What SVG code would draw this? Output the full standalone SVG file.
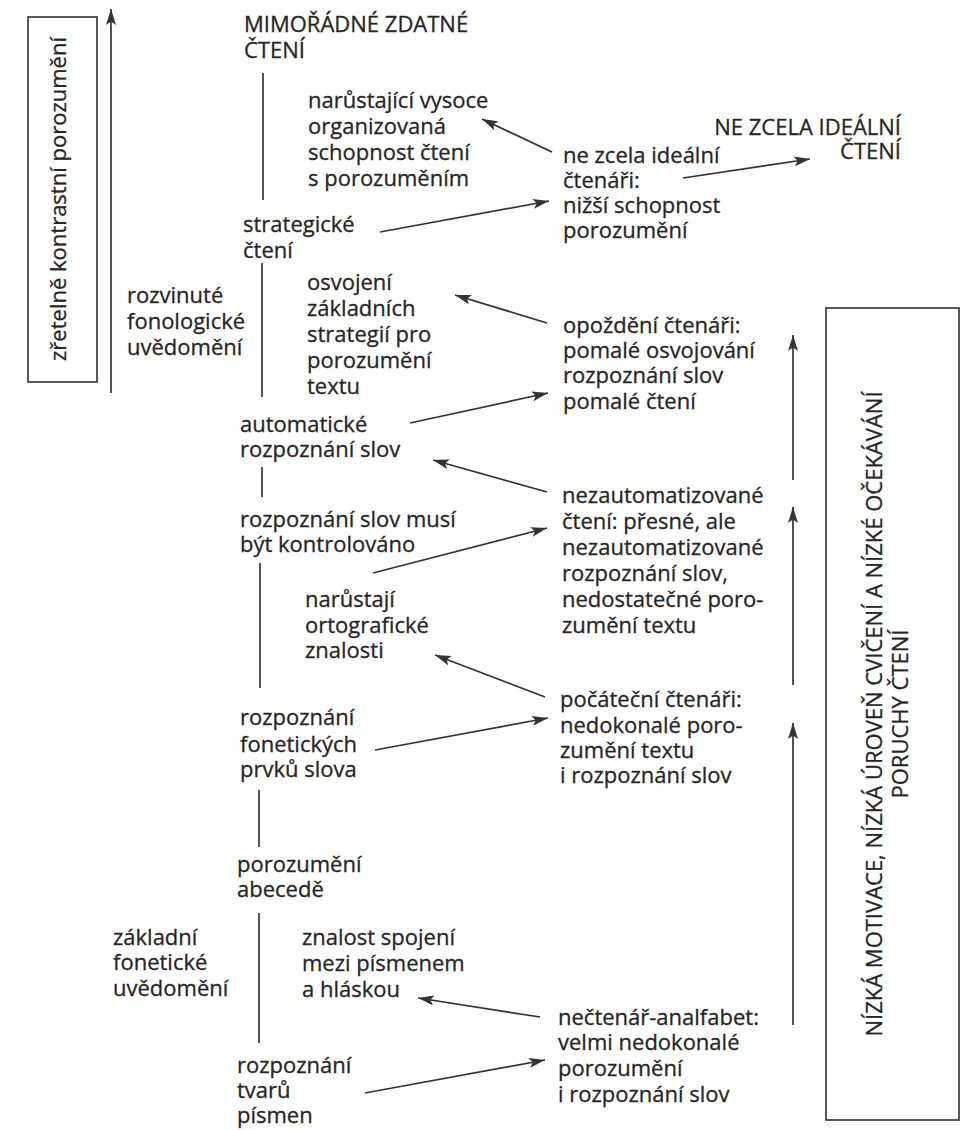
<svg xmlns="http://www.w3.org/2000/svg" width="964" height="1130" viewBox="0 0 964 1130">
<style>
text{font-family:"Open Sans","Noto Sans","DejaVu Sans",sans-serif;font-size:22px;fill:#262626;stroke:#262626;stroke-width:0.3}
.ln{stroke:#333;stroke-width:1.7;fill:none}
.ar{stroke:#333;stroke-width:1.7;fill:none;marker-end:url(#ah)}
.box{stroke:#3c3c3c;stroke-width:1.7;fill:none}
</style>
<defs>
<marker id="ah" markerUnits="userSpaceOnUse" markerWidth="17" markerHeight="10" refX="16" refY="5" orient="auto" viewBox="0 0 17 10">
<path d="M0,0 L16,5 L0,10 L3.5,5 z" fill="#333"/>
</marker>
</defs>
<rect width="964" height="1130" fill="#fff"/>

<g id="left-box">
<rect class="box" x="28" y="17" width="69" height="365"/>
<text transform="translate(66,199) rotate(-90)" text-anchor="middle">zřetelně kontrastní porozumění</text>
</g>

<g id="right-box">
<rect class="box" x="826" y="308" width="133" height="812"/>
<text transform="translate(882,714) rotate(-90)" text-anchor="middle">NÍZKÁ MOTIVACE, NÍZKÁ ÚROVEŇ CVIČENÍ A NÍZKÉ OČEKÁVÁNÍ</text>
<text transform="translate(908,714) rotate(-90)" text-anchor="middle">PORUCHY ČTENÍ</text>
</g>

<g id="n-mimoradne"><text x="244" y="32">MIMOŘÁDNÉ ZDATNÉ<tspan x="244" y="58">ČTENÍ</tspan></text></g>
<g id="n-narustajici-vysoce"><text x="308" y="108">narůstající vysoce<tspan x="308" y="134">organizovaná</tspan><tspan x="308" y="160">schopnost čtení</tspan><tspan x="308" y="186">s porozuměním</tspan></text></g>
<g id="n-strategicke"><text x="243" y="232">strategické<tspan x="243" y="258">čtení</tspan></text></g>
<g id="n-ne-zcela"><text x="563" y="163">ne zcela ideální<tspan x="563" y="188">čtenáři:</tspan><tspan x="563" y="213">nižší schopnost</tspan><tspan x="563" y="238">porozumění</tspan></text></g>
<g id="n-ne-zcela-idealni"><text x="901" y="135" text-anchor="end">NE ZCELA IDEÁLNÍ<tspan x="901" y="159">ČTENÍ</tspan></text></g>
<g id="n-rozvinute"><text x="127" y="303">rozvinuté<tspan x="127" y="329">fonologické</tspan><tspan x="127" y="355">uvědomění</tspan></text></g>
<g id="n-osvojeni"><text x="307" y="290">osvojení<tspan x="307" y="316">základních</tspan><tspan x="307" y="342">strategií pro</tspan><tspan x="307" y="368">porozumění</tspan><tspan x="307" y="394">textu</tspan></text></g>
<g id="n-automaticke"><text x="240" y="432">automatické<tspan x="240" y="457">rozpoznání slov</tspan></text></g>
<g id="n-opozdeni"><text x="563" y="333">opoždění čtenáři:<tspan x="563" y="358">pomalé osvojování</tspan><tspan x="563" y="383">rozpoznání slov</tspan><tspan x="563" y="409">pomalé čtení</tspan></text></g>
<g id="n-kontrolovano"><text x="240" y="527">rozpoznání slov musí<tspan x="240" y="552">být kontrolováno</tspan></text></g>
<g id="n-nezautomatizovane"><text x="562" y="503">nezautomatizované<tspan x="562" y="529">čtení: přesné, ale</tspan><tspan x="562" y="555">nezautomatizované</tspan><tspan x="562" y="581">rozpoznání slov,</tspan><tspan x="562" y="607">nedostatečné poro-</tspan><tspan x="562" y="633">zumění textu</tspan></text></g>
<g id="n-narustaji"><text x="305" y="607">narůstají<tspan x="305" y="633">ortografické</tspan><tspan x="305" y="658">znalosti</tspan></text></g>
<g id="n-pocatecni"><text x="560" y="707">počáteční čtenáři:<tspan x="560" y="733">nedokonalé poro-</tspan><tspan x="560" y="758">zumění textu</tspan><tspan x="560" y="783">i rozpoznání slov</tspan></text></g>
<g id="n-foneticke-prvky"><text x="240" y="725">rozpoznání<tspan x="240" y="752">fonetických</tspan><tspan x="240" y="777">prvků slova</tspan></text></g>
<g id="n-abeceda"><text x="237" y="872">porozumění<tspan x="237" y="897">abecedě</tspan></text></g>
<g id="n-zakladni"><text x="113" y="945">základní<tspan x="113" y="970">fonetické</tspan><tspan x="113" y="996">uvědomění</tspan></text></g>
<g id="n-znalost"><text x="302" y="945">znalost spojení<tspan x="302" y="971">mezi písmenem</tspan><tspan x="302" y="997">a hláskou</tspan></text></g>
<g id="n-tvary"><text x="237" y="1073">rozpoznání<tspan x="237" y="1098">tvarů</tspan><tspan x="237" y="1123">písmen</tspan></text></g>
<g id="n-nectenar"><text x="558" y="1025">nečtenář-analfabet:<tspan x="558" y="1050">velmi nedokonalé</tspan><tspan x="558" y="1076">porozumění</tspan><tspan x="558" y="1102">i rozpoznání slov</tspan></text></g>

<g id="connectors">
<line class="ln" x1="263" y1="73" x2="263" y2="200"/>
<line class="ln" x1="262" y1="263" x2="262" y2="397"/>
<line class="ln" x1="262" y1="467" x2="262" y2="497"/>
<line class="ln" x1="260" y1="563" x2="260" y2="688"/>
<line class="ln" x1="259" y1="790" x2="259" y2="847"/>
<line class="ln" x1="259" y1="913" x2="259" y2="1043"/>
<line class="ar" x1="111" y1="393" x2="111" y2="9"/>
<line class="ar" x1="793" y1="480" x2="793" y2="335"/>
<line class="ar" x1="793" y1="685" x2="793" y2="507"/>
<line class="ar" x1="793" y1="1025" x2="793" y2="723"/>
<line class="ar" x1="552" y1="152" x2="482" y2="119"/>
<line class="ar" x1="380" y1="232" x2="549" y2="201"/>
<line class="ar" x1="683" y1="178" x2="810" y2="159"/>
<line class="ar" x1="547" y1="323" x2="455" y2="295"/>
<line class="ar" x1="410" y1="423" x2="548" y2="393"/>
<line class="ar" x1="547" y1="492" x2="433" y2="460"/>
<line class="ar" x1="373" y1="573" x2="547" y2="528"/>
<line class="ar" x1="545" y1="697" x2="435" y2="655"/>
<line class="ar" x1="375" y1="750" x2="548" y2="718"/>
<line class="ar" x1="540" y1="1017" x2="418" y2="998"/>
<line class="ar" x1="365" y1="1093" x2="545" y2="1060"/>
</g>
</svg>
